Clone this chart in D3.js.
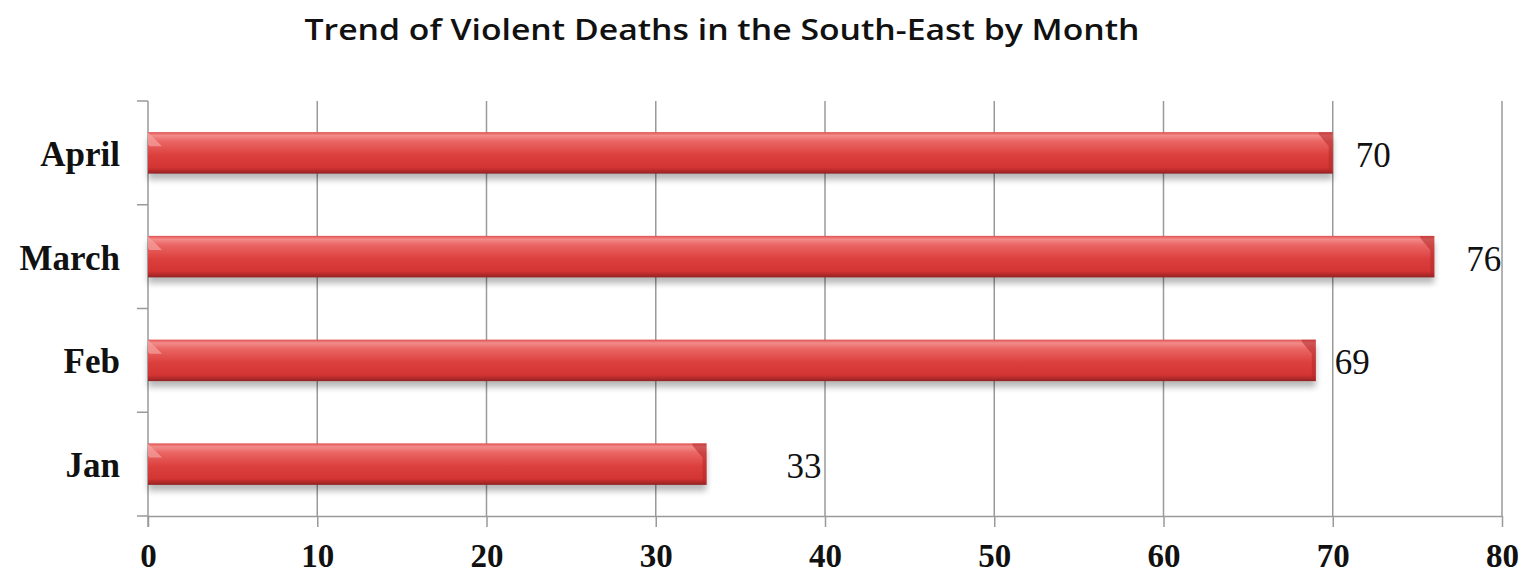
<!DOCTYPE html>
<html>
<head>
<meta charset="utf-8">
<script src="https://cdn.jsdelivr.net/npm/d3@7"></script>
<style>
  html, body { margin: 0; padding: 0; background: #fff; }
  svg { display: block; }
</style>
</head>
<body>
<svg id="chart" width="1522" height="576"></svg>
<script>
// Monthly counts of violent deaths, South-East region
const months = ["Jan", "Feb", "March", "April"];
const deaths = [33, 69, 76, 70];
const xTicks = [0, 10, 20, 30, 40, 50, 60, 70, 80];
const chartTitle = "Trend of Violent Deaths in the South-East by Month";

const svg = d3.select("#chart");
const serif = "'Liberation Serif', 'Times New Roman', serif";
const gridColor = "#9a9a9a";
const plotLeft = 148, plotRight = 1502, plotTop = 101, plotBottom = 516;

const x = d3.scaleLinear().domain([0, 80]).range([plotLeft, plotRight]);
// April on top, Jan at the bottom
const y = d3.scaleBand().domain(months).range([plotBottom, plotTop]).paddingInner(0.6).paddingOuter(0.3);
const yEdges = d3.scaleBand().domain(months).range([plotBottom, plotTop]).padding(0);
const mid = m => yEdges(m) + yEdges.bandwidth() / 2;

// Bar gradient + shadow
const defs = svg.append("defs");
const g1 = defs.append("linearGradient").attr("id", "barFill").attr("x1", 0).attr("y1", 0).attr("x2", 0).attr("y2", 1);
[[0, "#e0504f"], [0.08, "#f28c8a"], [0.22, "#ea6664"], [0.55, "#dc403e"], [0.85, "#d23534"], [0.93, "#b52a2a"], [1, "#8e2323"]]
  .forEach(([o, c]) => g1.append("stop").attr("offset", o).attr("stop-color", c));
const sh = defs.append("filter").attr("id", "shadow").attr("x", "-5%").attr("y", "-50%").attr("width", "110%").attr("height", "200%");
sh.append("feGaussianBlur").attr("stdDeviation", 3);

// Vertical gridlines
svg.append("g").selectAll("line").data(xTicks.slice(1)).join("line")
  .attr("x1", d => x(d)).attr("x2", d => x(d))
  .attr("y1", plotTop).attr("y2", plotBottom)
  .attr("stroke", gridColor).attr("stroke-width", 1.5);

// Bottom axis
const xAxis = svg.append("g").attr("transform", `translate(0,${plotBottom})`)
  .call(d3.axisBottom(x).tickValues(xTicks).tickSize(11).tickSizeOuter(0));
xAxis.select(".domain").attr("stroke", gridColor).attr("stroke-width", 1.5);
xAxis.selectAll(".tick line").attr("stroke", gridColor).attr("stroke-width", 1.5);
xAxis.selectAll(".tick text")
  .attr("font-family", serif).attr("font-size", 33).attr("font-weight", "bold").attr("fill", "#111")
  .attr("y", 51).attr("dy", null);

// Left axis: line with tick marks at band edges
const leftAxis = svg.append("g");
leftAxis.append("line").attr("x1", plotLeft).attr("x2", plotLeft)
  .attr("y1", plotTop).attr("y2", plotBottom + 11)
  .attr("stroke", gridColor).attr("stroke-width", 1.5);
const edges = months.map(m => yEdges(m)).concat([plotBottom]);
leftAxis.selectAll("line.edge").data(edges).join("line").attr("class", "edge")
  .attr("x1", plotLeft - 11).attr("x2", plotLeft)
  .attr("y1", d => d).attr("y2", d => d)
  .attr("stroke", gridColor).attr("stroke-width", 1.5);

// Category labels
svg.append("g").selectAll("text").data(months).join("text")
  .attr("x", 120).attr("y", d => mid(d) + 13)
  .attr("text-anchor", "end")
  .attr("font-family", serif).attr("font-size", 35).attr("font-weight", "bold").attr("fill", "#111")
  .text(d => d);

// Bars
const bars = svg.append("g").selectAll("g").data(months.map((m, i) => ({ m, v: deaths[i] }))).join("g");
bars.append("rect")
  .attr("x", x(0)).attr("y", d => y(d.m) + 6)
  .attr("width", d => x(d.v) - x(0)).attr("height", y.bandwidth())
  .attr("fill", "#000").attr("opacity", 0.28).attr("filter", "url(#shadow)");
bars.append("rect")
  .attr("x", x(0)).attr("y", d => y(d.m))
  .attr("width", d => x(d.v) - x(0)).attr("height", y.bandwidth())
  .attr("fill", "url(#barFill)");
// bevelled ends
bars.append("path")
  .attr("d", d => {
    const x0 = x(0), y0 = y(d.m);
    return `M${x0},${y0}L${x0 + 14},${y0 + 14}L${x0 + 1.5},${y0 + 14}L${x0},${y0 + 12}Z`;
  })
  .attr("fill", "#f5a3a1").attr("opacity", 0.7);
bars.append("path")
  .attr("d", d => {
    const x1 = x(d.v), y0 = y(d.m), h = y.bandwidth();
    return `M${x1},${y0}L${x1},${y0 + h}L${x1 - 4},${y0 + h - 4}L${x1 - 4},${y0 + 14}L${x1 - 14},${y0 + 2}L${x1 - 14},${y0}Z`;
  })
  .attr("fill", "#b32a2a").attr("opacity", 0.55);

// Value labels
const labelNudge = { Jan: 80, Feb: 19, March: 32, April: 23 };
bars.append("text")
  .attr("x", d => x(d.v) + labelNudge[d.m])
  .attr("y", d => mid(d.m) + 14)
  .attr("font-family", serif).attr("font-size", 35).attr("fill", "#111")
  .text(d => d.v);

// Title
svg.append("text")
  .attr("x", 722).attr("y", 40)
  .attr("text-anchor", "middle")
  .attr("font-family", "'Open Sans', 'DejaVu Sans', sans-serif")
  .attr("font-size", 29).attr("font-weight", 600).attr("fill", "#111")
  .attr("textLength", 835).attr("lengthAdjust", "spacingAndGlyphs")
  .text(chartTitle);
</script>
</body>
</html>
